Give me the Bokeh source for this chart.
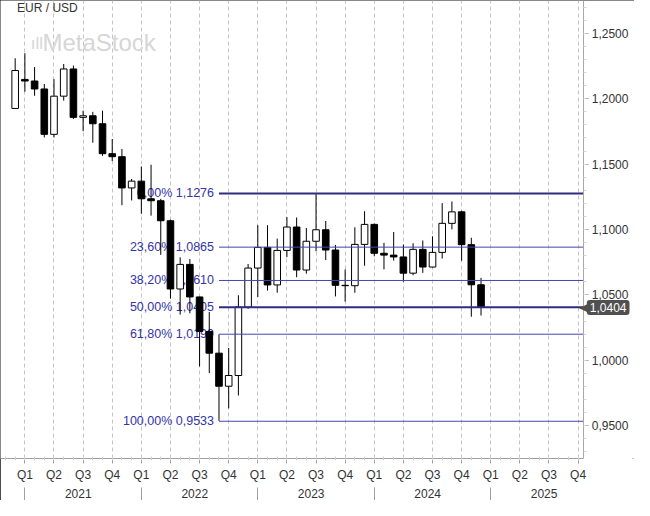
from bokeh.plotting import figure
from bokeh.models import (LinearAxis, FixedTicker, Grid, Label, ColumnDataSource,
                          CustomJSTickFormatter, Range1d)
from bokeh.core.properties import value
from bokeh.embed import file_html
from bokeh.resources import INLINE

# ---------------- data (monthly EUR/USD candles) ----------------
months = ["2020-12",
          "2021-01", "2021-02", "2021-03", "2021-04", "2021-05", "2021-06",
          "2021-07", "2021-08", "2021-09", "2021-10", "2021-11", "2021-12",
          "2022-01", "2022-02", "2022-03", "2022-04", "2022-05", "2022-06",
          "2022-07", "2022-08", "2022-09", "2022-10", "2022-11", "2022-12",
          "2023-01", "2023-02", "2023-03", "2023-04", "2023-05", "2023-06",
          "2023-07", "2023-08", "2023-09", "2023-10", "2023-11", "2023-12",
          "2024-01", "2024-02", "2024-03", "2024-04", "2024-05", "2024-06",
          "2024-07", "2024-08", "2024-09", "2024-10", "2024-11", "2024-12"]
opens = [1.1926,
         1.2148, 1.2136, 1.2075, 1.1728, 1.2020, 1.2228,
         1.1858, 1.1870, 1.1809, 1.1580, 1.1557, 1.1318,
         1.1370, 1.1235, 1.1220, 1.1067, 1.0545, 1.0733,
         1.0484, 1.0220, 1.0054, 0.9801, 0.9883, 1.0406,
         1.0705, 1.0863, 1.0576, 1.0840, 1.1019, 1.0690,
         1.0910, 1.0998, 1.0843, 1.0573, 1.0570, 1.0886,
         1.1039, 1.0818, 1.0804, 1.0790, 1.0666, 1.0848,
         1.0713, 1.0825, 1.1047, 1.1135, 1.0884, 1.0577]
highs = [1.2310,
         1.2349, 1.2243, 1.2113, 1.2150, 1.2266, 1.2254,
         1.1909, 1.1900, 1.1909, 1.1692, 1.1616, 1.1386,
         1.1482, 1.1495, 1.1234, 1.1076, 1.0787, 1.0774,
         1.0486, 1.0369, 1.0198, 1.0094, 1.0497, 1.0736,
         1.1033, 1.1033, 1.0930, 1.1095, 1.1092, 1.1012,
         1.1276, 1.1065, 1.0882, 1.0695, 1.1017, 1.1140,
         1.1046, 1.0898, 1.0981, 1.0885, 1.0895, 1.0916,
         1.0948, 1.1202, 1.1214, 1.1144, 1.0937, 1.0630]
lows = [1.1925,
        1.2054, 1.2023, 1.1704, 1.1704, 1.1986, 1.1845,
        1.1752, 1.1664, 1.1563, 1.1524, 1.1186, 1.1222,
        1.1121, 1.1106, 1.0806, 1.0471, 1.0349, 1.0359,
        0.9952, 0.9901, 0.9536, 0.9632, 0.9730, 1.0393,
        1.0483, 1.0533, 1.0516, 1.0788, 1.0635, 1.0662,
        1.0834, 1.0766, 1.0488, 1.0448, 1.0516, 1.0723,
        1.0795, 1.0695, 1.0762, 1.0601, 1.0650, 1.0668,
        1.0710, 1.0778, 1.1001, 1.0761, 1.0333, 1.0342]
closes = [1.2216,
          1.2136, 1.2075, 1.1728, 1.2020, 1.2228, 1.1858,
          1.1870, 1.1809, 1.1580, 1.1557, 1.1318, 1.1370,
          1.1235, 1.1220, 1.1067, 1.0545, 1.0733, 1.0484,
          1.0220, 1.0054, 0.9801, 0.9883, 1.0406, 1.0705,
          1.0863, 1.0576, 1.0840, 1.1019, 1.0690, 1.0910,
          1.0998, 1.0843, 1.0573, 1.0570, 1.0886, 1.1039,
          1.0818, 1.0804, 1.0790, 1.0666, 1.0848, 1.0713,
          1.0825, 1.1047, 1.1135, 1.0884, 1.0577, 1.0404]

quarter_labels = ["Q1", "Q2", "Q3", "Q4"]
year_labels = ["2021", "2022", "2023", "2024", "2025"]
price_ticks = [0.95, 1.00, 1.05, 1.10, 1.15, 1.20, 1.25]

fib_pcts = [0.0, 23.6, 38.2, 50.0, 61.8, 100.0]
fib_levels = [1.1276, 1.0865, 1.0610, 1.0405, 1.0199, 0.9533]
fib_start_month = "2022-09"

title_text = "EUR / USD"
watermark_text = "MetaStock"

# ---------------- helpers ----------------
def month_index(s):
    y, m = s.split("-")
    return (int(y) - 2021) * 12 + (int(m) - 1)

def fmt(v, nd=4):
    return f"{v:.{nd}f}".replace(".", ",")

# reference-pixel -> data helpers (annotation / layout placement only)
def rx(px):
    return (px - 25) / 9.95

def ry(py):
    return 1.25 - (py - 34) / 1350.0

x_start, x_end = rx(0), rx(650)
y_start, y_end = ry(473), ry(0)
axis_x = rx(598)          # where the price scale sits

xs = [month_index(m) for m in months]
tops = [max(o, c) for o, c in zip(opens, closes)]
bottoms = [min(o, c) for o, c in zip(opens, closes)]
fills = ["white" if c >= o else "black" for o, c in zip(opens, closes)]
candles = ColumnDataSource(dict(x=xs, open=opens, high=highs, low=lows, close=closes,
                                top=tops, bottom=bottoms, fill=fills))

FONT = "Liberation Sans"

p = figure(width=634, height=500,
           x_range=Range1d(x_start, x_end), y_range=Range1d(y_start, y_end),
           x_axis_type=None, y_axis_type=None,
           output_backend="svg", toolbar_location=None,
           min_border_left=0, min_border_top=0,
           min_border_right=0, min_border_bottom=42)
p.outline_line_color = None
p.background_fill_color = "white"
p.border_fill_color = "white"
p.styles = {"outline": "2px solid #111111", "outline-offset": "-2px"}

# ---------------- axes ----------------
minor_price = [round(0.92 + 0.01 * i, 2) for i in range(37)]
yax = LinearAxis(ticker=FixedTicker(ticks=price_ticks, minor_ticks=minor_price),
                 formatter=CustomJSTickFormatter(code="return tick.toFixed(4).replace('.', ',');"),
                 fixed_location=axis_x)
yax.axis_line_color = "#a8a8a8"
yax.major_tick_line_color = "#a8a8a8"
yax.major_tick_out = 5
yax.major_tick_in = 0
yax.minor_tick_line_color = "#d6d6d6"
yax.minor_tick_out = 3
yax.minor_tick_in = 0
yax.major_label_standoff = 3
yax.major_label_text_font = FONT
yax.major_label_text_font_size = "12px"
yax.major_label_text_color = "#333333"
p.add_layout(yax, "right")

q_ticks = [3.0 * i for i in range(len(year_labels) * 4)]
q_over = {t: quarter_labels[i % 4] for i, t in enumerate(q_ticks)}
month_minor = [float(i) for i in range(-2, 58)]
qax = LinearAxis(ticker=FixedTicker(ticks=q_ticks, minor_ticks=month_minor),
                 major_label_overrides=q_over, bounds=(x_start, axis_x))
qax.axis_line_color = "#a0a0a0"
qax.major_tick_line_color = "#a0a0a0"
qax.major_tick_out = 5
qax.major_tick_in = 0
qax.minor_tick_line_color = "#d0d0d0"
qax.minor_tick_out = 2
qax.minor_tick_in = 2
qax.major_label_standoff = 4
qax.major_label_text_font = FONT
qax.major_label_text_font_size = "12px"
qax.major_label_text_color = "#333333"
p.add_layout(qax, "below")

y_mid = [12.0 * i + 5.5 for i in range(len(year_labels))]
y_bound = [12.0 * i for i in range(len(year_labels))]
y_over = {t: year_labels[i] for i, t in enumerate(y_mid)}
yrax = LinearAxis(ticker=FixedTicker(ticks=y_mid, minor_ticks=y_bound),
                  major_label_overrides=y_over)
yrax.axis_line_color = None
yrax.major_tick_line_color = None
yrax.major_tick_out = 0
yrax.major_tick_in = 0
yrax.minor_tick_line_color = "#a0a0a0"
yrax.minor_tick_out = 19
yrax.minor_tick_in = -3
yrax.major_label_standoff = -15
yrax.major_label_text_font = FONT
yrax.major_label_text_font_size = "12px"
yrax.major_label_text_color = "#333333"
p.add_layout(yrax, "below")

grid = Grid(dimension=0, ticker=FixedTicker(ticks=q_ticks))
grid.grid_line_color = "#c4c4c4"
grid.grid_line_dash = "4 3"
grid.grid_line_width = 1
p.add_layout(grid)

# ---------------- fibonacci labels (under candles) ----------------
fx = month_index(fib_start_month)
fib_text = [fmt(pc, 2) + "% " + fmt(lv) for pc, lv in zip(fib_pcts, fib_levels)]
fib_widths = [2, 1, 1, 2, 1, 1]
fib_colors = ["#2c2c80", "#4545b4", "#4545b4", "#2c2c80", "#4545b4", "#4545b4"]
fib_src = ColumnDataSource(dict(x=[fx] * len(fib_levels), x1=[axis_x] * len(fib_levels),
                                y=fib_levels, text=fib_text, w=fib_widths, c=fib_colors))
p.text(x="x", y="y", text="text", source=fib_src, x_offset=-5,
       text_align="right", text_baseline="middle",
       text_font=value(FONT), text_font_size="12.5px", text_color="#3434aa")

# ---------------- candles ----------------
p.segment(x0="x", y0="low", x1="x", y1="high", source=candles,
          line_color="black", line_width=1)
p.vbar(x="x", width=0.68, top="top", bottom="bottom", source=candles,
       fill_color="fill", line_color="black", line_width=1)

# ---------------- fibonacci lines ----------------
p.segment(x0="x", y0="y", x1="x1", y1="y", source=fib_src,
          line_color="c", line_width="w")

# ---------------- annotations ----------------
p.add_layout(Label(x=rx(17), y=ry(8), text=title_text, text_font=FONT,
                   text_font_size="12px", text_color="#333333",
                   text_align="left", text_baseline="middle"))
p.add_layout(Label(x=rx(31), y=ry(44), text="ıll", text_font=FONT,
                   text_font_size="17px", text_color="#d6d6d6",
                   text_align="left", text_baseline="middle"))
p.add_layout(Label(x=rx(43), y=ry(43), text=watermark_text, text_font=FONT,
                   text_font_size="24px", text_color="#d6d6d6",
                   text_align="left", text_baseline="middle"))

last_price = closes[-1]
p.add_layout(Label(x=axis_x, y=last_price, x_offset=4, text="◀", text_font="DejaVu Sans",
                   text_font_size="11px", text_color="#505050",
                   text_align="right", text_baseline="middle"))
p.add_layout(Label(x=axis_x, y=last_price, x_offset=3, text=fmt(last_price), text_font=FONT,
                   text_font_size="12px", text_color="white",
                   text_align="left", text_baseline="middle",
                   background_fill_color="#505050", border_radius=3, padding=3))

open("out.html", "w").write(file_html(p, INLINE))
